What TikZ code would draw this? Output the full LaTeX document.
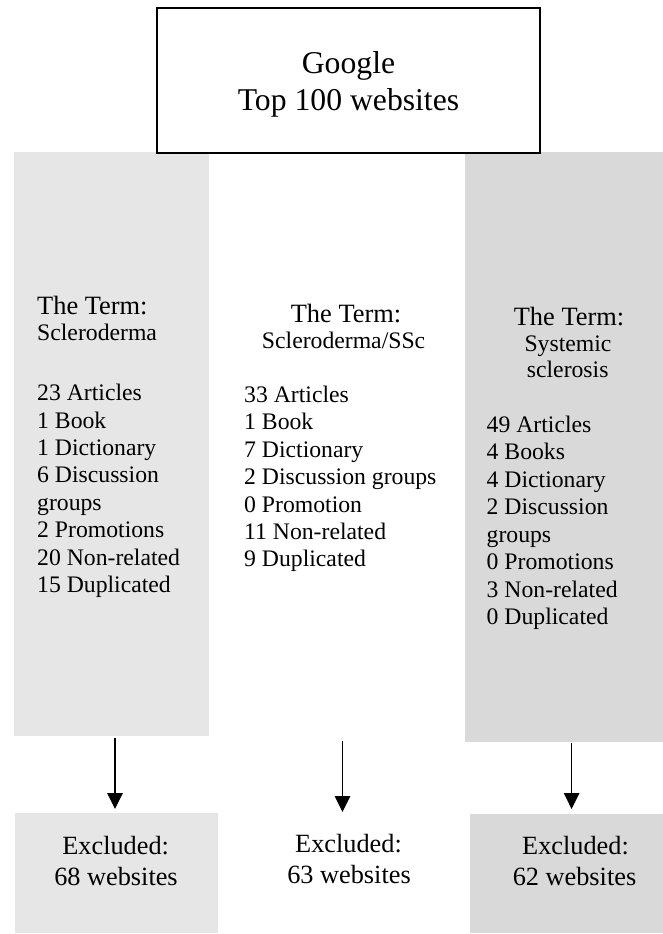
\documentclass[tikz,border=0pt]{standalone}
\usepackage{fontspec}
\setmainfont{Liberation Serif}
\usetikzlibrary{arrows.meta}
\definecolor{lightpanel}{HTML}{E6E6E6}
\definecolor{darkpanel}{HTML}{D9D9D9}
\begin{document}
\begin{tikzpicture}[x=1pt,y=-1pt,
  box/.style={inner sep=0pt, outer sep=0pt, anchor=north west},
  toptext/.style={inner sep=0pt, anchor=base, font=\fontsize{31.7}{36}\selectfont},
  termtext/.style={inner sep=0pt, font=\fontsize{26.4}{30}\selectfont},
  bodytext/.style={inner sep=0pt, font=\fontsize{23.7}{27.4}\selectfont},
  excltext/.style={inner sep=0pt, anchor=base, font=\fontsize{26.3}{30}\selectfont},
  arr/.style={line width=1.2pt, -{Triangle[width=15.6pt,length=16pt]}}]
\useasboundingbox (0,0) rectangle (663,934);

% columns
\node[box, fill=lightpanel, minimum width=194.5pt, minimum height=584pt] (lp) at (14,152) {};
\node[box, minimum width=256pt, minimum height=589pt] (mp) at (208.5,152) {};
\node[box, fill=darkpanel, minimum width=198.5pt, minimum height=590pt] (rp) at (464.5,152) {};

% excluded boxes
\node[box, fill=lightpanel, minimum width=203pt, minimum height=120pt] (le) at (14.8,813) {};
\node[box, minimum width=252pt, minimum height=120pt] (me) at (218,813) {};
\node[box, fill=darkpanel, minimum width=193pt, minimum height=119pt] (re) at (470,814) {};

% top box
\node[box, draw, line width=2.6pt, fill=white, minimum width=383pt, minimum height=145pt] (top) at (157,8) {};
\node[toptext] (g1) at (348.5,74) {Google};
\node[toptext] (g2) at (348.5,110) {Top 100 websites};

% left column text
\node[termtext, anchor=base west] (lt1) at (37,314.7) {The Term:};
\node[bodytext, anchor=base west] (lt2) at (37,340.5) {Scleroderma};
\foreach \t [count=\i] in {23 Articles, 1 Book, 1 Dictionary, 6 Discussion, groups, 2 Promotions, 20 Non-related, 15 Duplicated}
  \node[bodytext, anchor=base west] (l\i) at (37,{400.7+27.4*(\i-1)}) {\t};

% middle column text
\node[termtext, anchor=base] (mt1) at (346,322) {The Term:};
\node[bodytext, anchor=base] (mt2) at (343.6,348.5) {Scleroderma/SSc};
\foreach \t [count=\i] in {33 Articles, 1 Book, 7 Dictionary, 2 Discussion groups, 0 Promotion, 11 Non-related, 9 Duplicated}
  \node[bodytext, anchor=base west] (m\i) at (244,{402.5+27.4*(\i-1)}) {\t};

% right column text
\node[termtext, anchor=base] (rt1) at (569,325) {The Term:};
\node[bodytext, anchor=base] (rt2) at (568,351.5) {Systemic};
\node[bodytext, anchor=base] (rt3) at (567.7,377.5) {sclerosis};
\foreach \t [count=\i] in {49 Articles, 4 Books, 4 Dictionary, 2 Discussion, groups, 0 Promotions, 3 Non-related, 0 Duplicated}
  \node[bodytext, anchor=base west] (r\i) at (486.5,{432+27.5*(\i-1)}) {\t};

% excluded text
\node[excltext] (le1) at (115.7,854) {Excluded:};
\node[excltext] (le2) at (116,885) {68 websites};
\node[excltext] (me1) at (348.5,852) {Excluded:};
\node[excltext] (me2) at (349,883) {63 websites};
\node[excltext] (re1) at (575.5,854) {Excluded:};
\node[excltext] (re2) at (574.5,885) {62 websites};

% arrows
\draw[arr, shorten <=2pt, shorten >=4pt] ([xshift=-1.3pt]le.north |- lp.south) -- ([xshift=-1.3pt]le.north);
\draw[arr, shorten >=1pt] ([xshift=-1.5pt]me.north |- mp.south) -- ([xshift=-1.5pt]me.north);
\draw[arr, shorten <=1pt, shorten >=5pt] ([xshift=5.1pt]re.north |- rp.south) -- ([xshift=5.1pt]re.north);
\end{tikzpicture}
\end{document}
